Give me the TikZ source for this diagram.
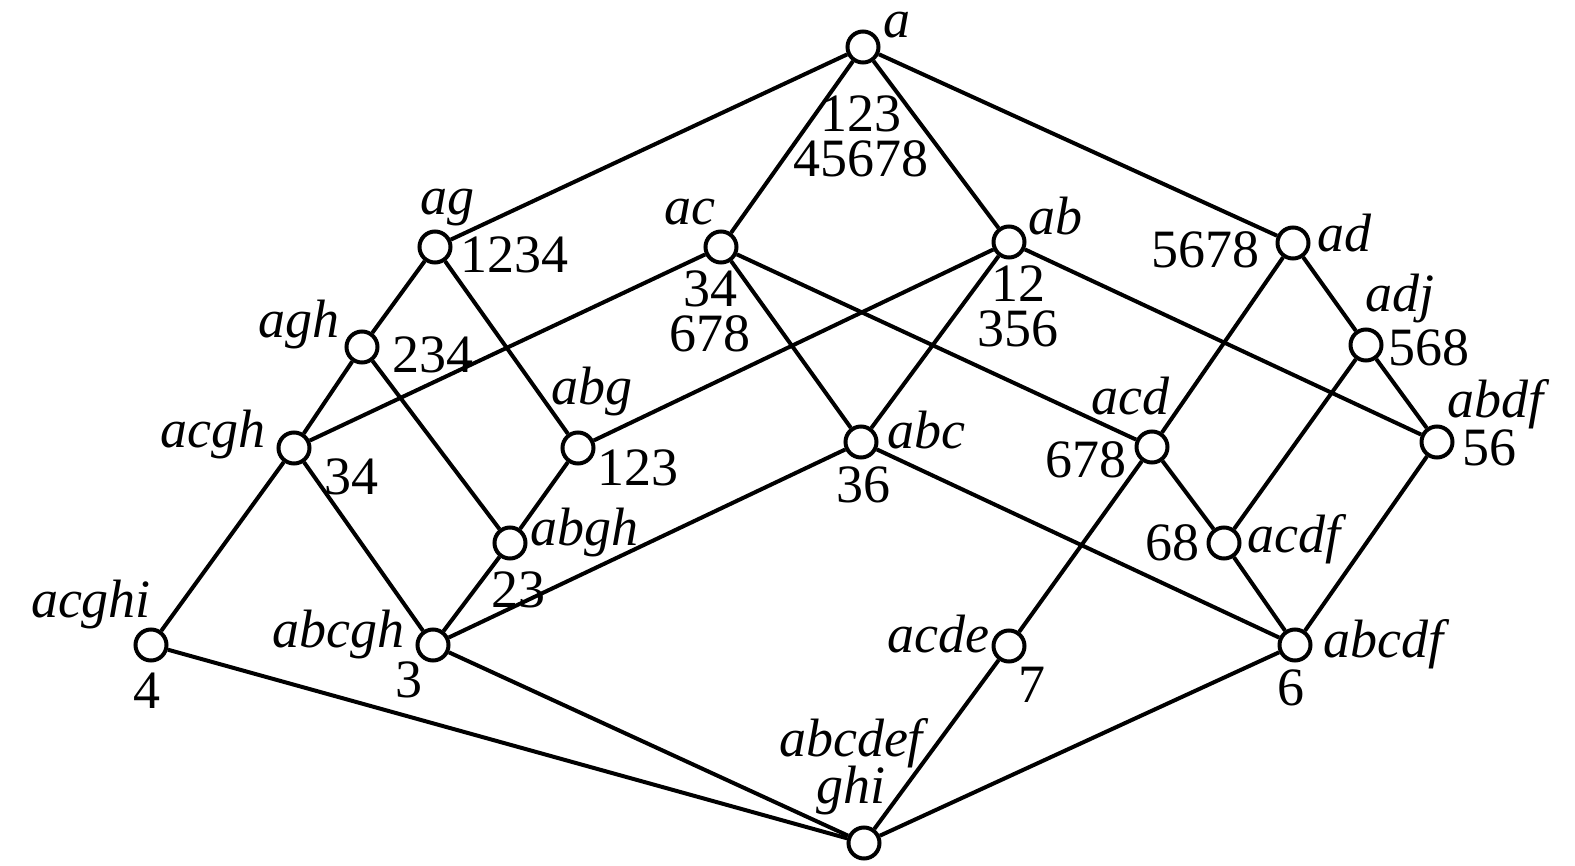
\documentclass[tikz,border=0pt]{standalone}
\usepackage{fontspec}
\setmainfont{Liberation Serif}
\begin{document}
\begin{tikzpicture}[x=0.5pt,y=-0.5pt,
  v/.style={circle,draw,line width=2pt,minimum size=15.5pt,inner sep=0pt,fill=white},
  e/.style={line width=2pt},
  lab/.style={inner sep=0pt,font=\fontsize{27}{22.5}\selectfont\itshape},
  num/.style={inner sep=0pt,font=\fontsize{27}{22.5}\selectfont}]
\useasboundingbox (0,0) rectangle (1575,866);
% vertices
\node[v] (a) at (863,47) {};
\node[v] (ag) at (435,247) {};
\node[v] (ac) at (721,247) {};
\node[v] (ab) at (1009,242) {};
\node[v] (ad) at (1293,243) {};
\node[v] (agh) at (362,347) {};
\node[v] (adj) at (1366,345) {};
\node[v] (acgh) at (294,448) {};
\node[v] (abg) at (578,448) {};
\node[v] (abc) at (861,442) {};
\node[v] (acd) at (1152,447) {};
\node[v] (abdf) at (1437,442) {};
\node[v] (abgh) at (510,543) {};
\node[v] (acdf) at (1224,543) {};
\node[v] (acghi) at (151,645) {};
\node[v] (abcgh) at (433,645) {};
\node[v] (acde) at (1009,646) {};
\node[v] (abcdf) at (1295,645) {};
\node[v] (bot) at (864,843) {};
% edges
\draw[e] (a) -- (ag);
\draw[e] (a) -- (ac);
\draw[e] (a) -- (ab);
\draw[e] (a) -- (ad);
\draw[e] (ag) -- (agh);
\draw[e] (ag) -- (abg);
\draw[e] (ac) -- (acgh);
\draw[e] (ac) -- (abc);
\draw[e] (ac) -- (acd);
\draw[e] (ab) -- (abg);
\draw[e] (ab) -- (abc);
\draw[e] (ab) -- (abdf);
\draw[e] (ad) -- (acd);
\draw[e] (ad) -- (adj);
\draw[e] (agh) -- (acgh);
\draw[e] (agh) -- (abgh);
\draw[e] (adj) -- (acdf);
\draw[e] (adj) -- (abdf);
\draw[e] (acgh) -- (acghi);
\draw[e] (acgh) -- (abcgh);
\draw[e] (abg) -- (abgh);
\draw[e] (abc) -- (abcgh);
\draw[e] (abc) -- (abcdf);
\draw[e] (acd) -- (acde);
\draw[e] (acd) -- (acdf);
\draw[e] (abdf) -- (abcdf);
\draw[e] (abgh) -- (abcgh);
\draw[e] (acdf) -- (abcdf);
\draw[e] (acghi) -- (bot);
\draw[e] (abcgh) -- (bot);
\draw[e] (acde) -- (bot);
\draw[e] (abcdf) -- (bot);
% labels
\node[lab,anchor=base west,text height=13pt] (la) at (883,38) {a};
\node[num,anchor=base,align=center] (na) at (861,177) {123\\45678};
\node[lab,anchor=base] (lag) at (447,215) {ag};
\node[num,anchor=base west] (nag) at (460,273) {1234};
\node[lab,anchor=base] (lac) at (690,225) {ac};
\node[num,anchor=base,align=center] (nac) at (710,351) {34\\678};
\node[lab,anchor=base west] (lab) at (1028,235) {ab};
\node[num,anchor=base,align=center] (nab) at (1018,347) {12\\356};
\node[lab,anchor=base west] (lad) at (1317,252) {ad};
\node[num,anchor=base east] (nad) at (1260,268) {5678};
\node[lab,anchor=base east] (lagh) at (340,337) {agh};
\node[num,anchor=base west] (nagh) at (392,372) {234};
\node[lab,anchor=base] (ladj) at (1400,312) {adj};
\node[num,anchor=base west] (nadj) at (1388,365) {568};
\node[lab,anchor=base east] (lacgh) at (266,447) {acgh};
\node[num,anchor=base] (nacgh) at (351,494) {34};
\node[lab,anchor=base] (labg) at (592,405) {abg};
\node[num,anchor=base west] (nabg) at (597,485) {123};
\node[lab,anchor=base west] (labc) at (887,448) {abc};
\node[num,anchor=base] (nabc) at (863,502) {36};
\node[lab,anchor=base] (lacd) at (1130,415) {acd};
\node[num,anchor=base east] (nacd) at (1127,477) {678};
\node[lab,anchor=base] (labdf) at (1495,417) {abdf};
\node[num,anchor=base west] (nabdf) at (1462,465) {56};
\node[lab,anchor=base west] (labgh) at (530,545) {abgh};
\node[num,anchor=base] (nabgh) at (518,607) {23};
\node[lab,anchor=base west] (lacdf) at (1247,552) {acdf};
\node[num,anchor=base] (nacdf) at (1172,560) {68};
\node[lab,anchor=base] (lacghi) at (91,617) {acghi};
\node[num,anchor=base] (nacghi) at (147,708) {4};
\node[lab,anchor=base east] (labcgh) at (405,647) {abcgh};
\node[num,anchor=base] (nabcgh) at (409,697) {3};
\node[lab,anchor=base east] (lacde) at (990,652) {acde};
\node[num,anchor=base] (nacde) at (1032,702) {7};
\node[lab,anchor=base west] (labcdf) at (1323,657) {abcdf};
\node[num,anchor=base] (nabcdf) at (1291,705) {6};
\node[lab,anchor=base,align=center] (lbot) at (851,803) {abcdef\\[-2pt]ghi};
\end{tikzpicture}
\end{document}
